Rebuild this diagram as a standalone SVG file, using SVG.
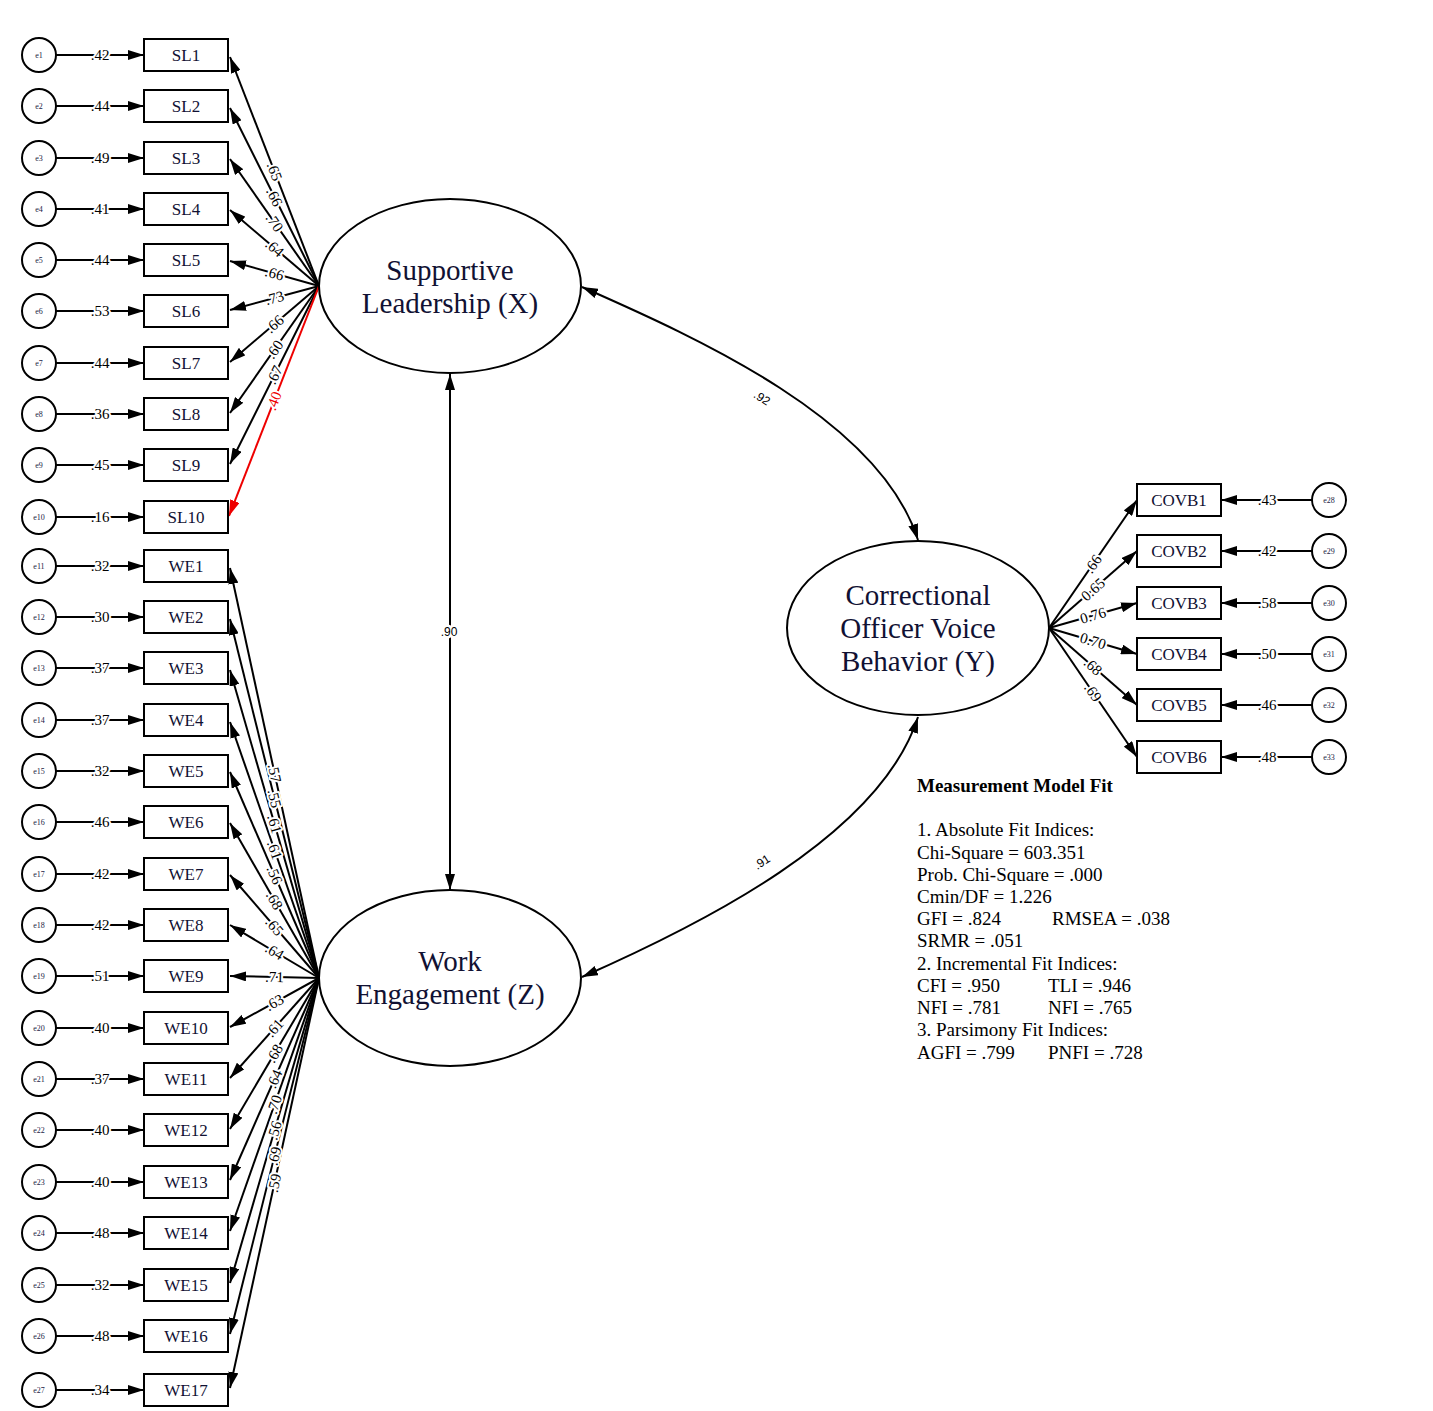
<svg xmlns="http://www.w3.org/2000/svg" width="1433" height="1411" viewBox="0 0 1433 1411">
<style>
.bg{fill:#fff}
.box{fill:#fff;stroke:#000;stroke-width:2}
.err{fill:#fff;stroke:#000;stroke-width:2}
.lat{fill:#fff;stroke:#000;stroke-width:2}
.ln{fill:none;stroke:#000;stroke-width:2}
.red{fill:none;stroke:#e00;stroke-width:2}
.bt{font-family:"Liberation Serif","DejaVu Serif",serif;font-size:17px;fill:#111133;text-anchor:middle}
.et{font-family:"Liberation Serif","DejaVu Serif",serif;font-size:8px;fill:#222244;text-anchor:middle}
.lt{font-family:"Liberation Serif","DejaVu Serif",serif;font-size:29px;fill:#111133;text-anchor:middle}
.lab{font-family:"Liberation Serif","DejaVu Serif",serif;font-size:15px;fill:#000;text-anchor:middle;stroke:#fff;stroke-width:4;paint-order:stroke;stroke-linejoin:round}
.labr{font-family:"Liberation Serif","DejaVu Serif",serif;font-size:15px;fill:#e00;text-anchor:middle;stroke:#fff;stroke-width:4;paint-order:stroke;stroke-linejoin:round}
.cov{font-family:"Liberation Sans","DejaVu Sans",sans-serif;font-size:12px;fill:#000;text-anchor:middle}
.ft{font-family:"Liberation Serif","DejaVu Serif",serif;font-size:19px;fill:#000}
.fh{font-family:"Liberation Serif","DejaVu Serif",serif;font-size:19px;font-weight:bold;fill:#000}
</style>
<defs>
<marker id="a" viewBox="0 0 16 10" refX="16" refY="5" markerWidth="16" markerHeight="10" markerUnits="userSpaceOnUse" orient="auto-start-reverse"><path d="M0,0 L16,5 L0,10 z" fill="#000"/></marker>
<marker id="ar" viewBox="0 0 16 10" refX="16" refY="5" markerWidth="16" markerHeight="10" markerUnits="userSpaceOnUse" orient="auto"><path d="M0,0 L16,5 L0,10 z" fill="#e00"/></marker>
</defs>
<rect class="bg" x="0" y="0" width="1433" height="1411"/>

<g id="connectors">
<g class="ln" marker-end="url(#a)">
<line x1="56" y1="55" x2="144" y2="55"/>
<line x1="56" y1="106" x2="144" y2="106"/>
<line x1="56" y1="158" x2="144" y2="158"/>
<line x1="56" y1="209" x2="144" y2="209"/>
<line x1="56" y1="260" x2="144" y2="260"/>
<line x1="56" y1="311" x2="144" y2="311"/>
<line x1="56" y1="363" x2="144" y2="363"/>
<line x1="56" y1="414" x2="144" y2="414"/>
<line x1="56" y1="465" x2="144" y2="465"/>
<line x1="56" y1="517" x2="144" y2="517"/>
<line x1="56" y1="566" x2="144" y2="566"/>
<line x1="56" y1="617" x2="144" y2="617"/>
<line x1="56" y1="668" x2="144" y2="668"/>
<line x1="56" y1="720" x2="144" y2="720"/>
<line x1="56" y1="771" x2="144" y2="771"/>
<line x1="56" y1="822" x2="144" y2="822"/>
<line x1="56" y1="874" x2="144" y2="874"/>
<line x1="56" y1="925" x2="144" y2="925"/>
<line x1="56" y1="976" x2="144" y2="976"/>
<line x1="56" y1="1028" x2="144" y2="1028"/>
<line x1="56" y1="1079" x2="144" y2="1079"/>
<line x1="56" y1="1130" x2="144" y2="1130"/>
<line x1="56" y1="1182" x2="144" y2="1182"/>
<line x1="56" y1="1233" x2="144" y2="1233"/>
<line x1="56" y1="1285" x2="144" y2="1285"/>
<line x1="56" y1="1336" x2="144" y2="1336"/>
<line x1="56" y1="1390" x2="144" y2="1390"/>
<line x1="1312" y1="500" x2="1221" y2="500"/>
<line x1="1312" y1="551" x2="1221" y2="551"/>
<line x1="1312" y1="603" x2="1221" y2="603"/>
<line x1="1312" y1="654" x2="1221" y2="654"/>
<line x1="1312" y1="705" x2="1221" y2="705"/>
<line x1="1312" y1="757" x2="1221" y2="757"/>
<line x1="319" y1="286" x2="230" y2="57"/>
<line x1="319" y1="286" x2="230" y2="108"/>
<line x1="319" y1="286" x2="230" y2="159"/>
<line x1="319" y1="286" x2="230" y2="210"/>
<line x1="319" y1="286" x2="230" y2="261"/>
<line x1="319" y1="286" x2="230" y2="310"/>
<line x1="319" y1="286" x2="230" y2="362"/>
<line x1="319" y1="286" x2="230" y2="413"/>
<line x1="319" y1="286" x2="230" y2="464"/>
<line x1="319" y1="978" x2="230" y2="568"/>
<line x1="319" y1="978" x2="230" y2="619"/>
<line x1="319" y1="978" x2="230" y2="670"/>
<line x1="319" y1="978" x2="230" y2="722"/>
<line x1="319" y1="978" x2="230" y2="772"/>
<line x1="319" y1="978" x2="230" y2="823"/>
<line x1="319" y1="978" x2="230" y2="875"/>
<line x1="319" y1="978" x2="230" y2="925"/>
<line x1="319" y1="978" x2="230" y2="976"/>
<line x1="319" y1="978" x2="230" y2="1027"/>
<line x1="319" y1="978" x2="230" y2="1078"/>
<line x1="319" y1="978" x2="230" y2="1129"/>
<line x1="319" y1="978" x2="230" y2="1180"/>
<line x1="319" y1="978" x2="230" y2="1231"/>
<line x1="319" y1="978" x2="230" y2="1283"/>
<line x1="319" y1="978" x2="230" y2="1334"/>
<line x1="319" y1="978" x2="230" y2="1388"/>
<line x1="1049" y1="628" x2="1137" y2="500"/>
<line x1="1049" y1="628" x2="1137" y2="551"/>
<line x1="1049" y1="628" x2="1137" y2="603"/>
<line x1="1049" y1="628" x2="1137" y2="654"/>
<line x1="1049" y1="628" x2="1137" y2="705"/>
<line x1="1049" y1="628" x2="1137" y2="757"/>
</g>
<line class="red" x1="319" y1="286" x2="229" y2="516" marker-end="url(#ar)"/>
<g class="ln" marker-start="url(#a)" marker-end="url(#a)">
<line x1="450" y1="374" x2="450" y2="890"/>
<path d="M582,287 C700,339 880,420 918,540"/>
<path d="M582,977 C700,925 880,836 918,717"/>
</g>
<g class="lab">
<text x="100" y="60">.42</text>
<text x="100" y="111">.44</text>
<text x="100" y="163">.49</text>
<text x="100" y="214">.41</text>
<text x="100" y="265">.44</text>
<text x="100" y="316">.53</text>
<text x="100" y="368">.44</text>
<text x="100" y="419">.36</text>
<text x="100" y="470">.45</text>
<text x="100" y="522">.16</text>
<text x="100" y="571">.32</text>
<text x="100" y="622">.30</text>
<text x="100" y="673">.37</text>
<text x="100" y="725">.37</text>
<text x="100" y="776">.32</text>
<text x="100" y="827">.46</text>
<text x="100" y="879">.42</text>
<text x="100" y="930">.42</text>
<text x="100" y="981">.51</text>
<text x="100" y="1033">.40</text>
<text x="100" y="1084">.37</text>
<text x="100" y="1135">.40</text>
<text x="100" y="1187">.40</text>
<text x="100" y="1238">.48</text>
<text x="100" y="1290">.32</text>
<text x="100" y="1341">.48</text>
<text x="100" y="1395">.34</text>
<text x="1267" y="505">.43</text>
<text x="1267" y="556">.42</text>
<text x="1267" y="608">.58</text>
<text x="1267" y="659">.50</text>
<text x="1267" y="710">.46</text>
<text x="1267" y="762">.48</text>
</g>
<g class="lab">
<text transform="translate(274.5,171.5) rotate(68.9)" dy="5">.65</text>
<text transform="translate(274.5,197) rotate(63.7)" dy="5">.66</text>
<text transform="translate(274.5,222.5) rotate(55.2)" dy="5">.70</text>
<text transform="translate(274.5,248) rotate(40.9)" dy="5">.64</text>
<text transform="translate(274.5,273.5) rotate(16.3)" dy="5">.66</text>
<text transform="translate(274.5,298) rotate(-15.7)" dy="5">.73</text>
<text transform="translate(274.5,324) rotate(-40.9)" dy="5">.66</text>
<text transform="translate(274.5,349.5) rotate(-55.2)" dy="5">.60</text>
<text transform="translate(274.5,375) rotate(-63.6)" dy="5">.67</text>
</g>
<text class="labr" transform="translate(274,401) rotate(-68.7)" dy="5">.40</text>
<g class="lab">
<text transform="translate(274.5,773) rotate(77.8)" dy="5">.57</text>
<text transform="translate(274.5,798.5) rotate(76.2)" dy="5">.55</text>
<text transform="translate(274.5,824) rotate(74.0)" dy="5">.61</text>
<text transform="translate(274.5,850) rotate(71.0)" dy="5">.61</text>
<text transform="translate(274.5,875) rotate(66.7)" dy="5">.56</text>
<text transform="translate(274.5,900.5) rotate(60.3)" dy="5">.68</text>
<text transform="translate(274.5,926.5) rotate(49.5)" dy="5">.65</text>
<text transform="translate(274.5,951.5) rotate(30.8)" dy="5">.64</text>
<text transform="translate(274.5,977) rotate(1.3)" dy="5">.71</text>
<text transform="translate(274.5,1002.5) rotate(-29.3)" dy="5">.63</text>
<text transform="translate(274.5,1028) rotate(-48.6)" dy="5">.61</text>
<text transform="translate(274.5,1053.5) rotate(-59.7)" dy="5">.68</text>
<text transform="translate(274.5,1079) rotate(-66.4)" dy="5">.64</text>
<text transform="translate(274.5,1104.5) rotate(-70.8)" dy="5">.70</text>
<text transform="translate(274.5,1130.5) rotate(-73.8)" dy="5">.56</text>
<text transform="translate(274.5,1156) rotate(-76.0)" dy="5">.69</text>
<text transform="translate(274.5,1183) rotate(-77.8)" dy="5">.59</text>
</g>
<g class="lab">
<text transform="translate(1093,564) rotate(-55.5)" dy="5">.66</text>
<text transform="translate(1093,589.5) rotate(-41.2)" dy="5">0.65</text>
<text transform="translate(1093,615.5) rotate(-15.9)" dy="5">0.76</text>
<text transform="translate(1093,641) rotate(16.5)" dy="5">0.70</text>
<text transform="translate(1093,666.5) rotate(41.2)" dy="5">.68</text>
<text transform="translate(1093,692.5) rotate(55.7)" dy="5">.69</text>
</g>
<text class="cov" x="449" y="636" stroke="#fff" stroke-width="5" paint-order="stroke">.90</text>
<text class="cov" transform="translate(762,398) rotate(33)" dy="4">.92</text>
<text class="cov" transform="translate(762,862) rotate(-33)" dy="4">.91</text>
</g>

<g id="e1"><circle class="err" cx="39" cy="55" r="17"/><text class="et" x="39" y="58">e1</text></g>
<g id="e2"><circle class="err" cx="39" cy="106" r="17"/><text class="et" x="39" y="109">e2</text></g>
<g id="e3"><circle class="err" cx="39" cy="158" r="17"/><text class="et" x="39" y="161">e3</text></g>
<g id="e4"><circle class="err" cx="39" cy="209" r="17"/><text class="et" x="39" y="212">e4</text></g>
<g id="e5"><circle class="err" cx="39" cy="260" r="17"/><text class="et" x="39" y="263">e5</text></g>
<g id="e6"><circle class="err" cx="39" cy="311" r="17"/><text class="et" x="39" y="314">e6</text></g>
<g id="e7"><circle class="err" cx="39" cy="363" r="17"/><text class="et" x="39" y="366">e7</text></g>
<g id="e8"><circle class="err" cx="39" cy="414" r="17"/><text class="et" x="39" y="417">e8</text></g>
<g id="e9"><circle class="err" cx="39" cy="465" r="17"/><text class="et" x="39" y="468">e9</text></g>
<g id="e10"><circle class="err" cx="39" cy="517" r="17"/><text class="et" x="39" y="520">e10</text></g>
<g id="e11"><circle class="err" cx="39" cy="566" r="17"/><text class="et" x="39" y="569">e11</text></g>
<g id="e12"><circle class="err" cx="39" cy="617" r="17"/><text class="et" x="39" y="620">e12</text></g>
<g id="e13"><circle class="err" cx="39" cy="668" r="17"/><text class="et" x="39" y="671">e13</text></g>
<g id="e14"><circle class="err" cx="39" cy="720" r="17"/><text class="et" x="39" y="723">e14</text></g>
<g id="e15"><circle class="err" cx="39" cy="771" r="17"/><text class="et" x="39" y="774">e15</text></g>
<g id="e16"><circle class="err" cx="39" cy="822" r="17"/><text class="et" x="39" y="825">e16</text></g>
<g id="e17"><circle class="err" cx="39" cy="874" r="17"/><text class="et" x="39" y="877">e17</text></g>
<g id="e18"><circle class="err" cx="39" cy="925" r="17"/><text class="et" x="39" y="928">e18</text></g>
<g id="e19"><circle class="err" cx="39" cy="976" r="17"/><text class="et" x="39" y="979">e19</text></g>
<g id="e20"><circle class="err" cx="39" cy="1028" r="17"/><text class="et" x="39" y="1031">e20</text></g>
<g id="e21"><circle class="err" cx="39" cy="1079" r="17"/><text class="et" x="39" y="1082">e21</text></g>
<g id="e22"><circle class="err" cx="39" cy="1130" r="17"/><text class="et" x="39" y="1133">e22</text></g>
<g id="e23"><circle class="err" cx="39" cy="1182" r="17"/><text class="et" x="39" y="1185">e23</text></g>
<g id="e24"><circle class="err" cx="39" cy="1233" r="17"/><text class="et" x="39" y="1236">e24</text></g>
<g id="e25"><circle class="err" cx="39" cy="1285" r="17"/><text class="et" x="39" y="1288">e25</text></g>
<g id="e26"><circle class="err" cx="39" cy="1336" r="17"/><text class="et" x="39" y="1339">e26</text></g>
<g id="e27"><circle class="err" cx="39" cy="1390" r="17"/><text class="et" x="39" y="1393">e27</text></g>
<g id="e28"><circle class="err" cx="1329" cy="500" r="17"/><text class="et" x="1329" y="503">e28</text></g>
<g id="e29"><circle class="err" cx="1329" cy="551" r="17"/><text class="et" x="1329" y="554">e29</text></g>
<g id="e30"><circle class="err" cx="1329" cy="603" r="17"/><text class="et" x="1329" y="606">e30</text></g>
<g id="e31"><circle class="err" cx="1329" cy="654" r="17"/><text class="et" x="1329" y="657">e31</text></g>
<g id="e32"><circle class="err" cx="1329" cy="705" r="17"/><text class="et" x="1329" y="708">e32</text></g>
<g id="e33"><circle class="err" cx="1329" cy="757" r="17"/><text class="et" x="1329" y="760">e33</text></g>

<g id="SL1"><rect class="box" x="144" y="39" width="84" height="32"/><text class="bt" x="186" y="61">SL1</text></g>
<g id="SL2"><rect class="box" x="144" y="90" width="84" height="32"/><text class="bt" x="186" y="112">SL2</text></g>
<g id="SL3"><rect class="box" x="144" y="142" width="84" height="32"/><text class="bt" x="186" y="164">SL3</text></g>
<g id="SL4"><rect class="box" x="144" y="193" width="84" height="32"/><text class="bt" x="186" y="215">SL4</text></g>
<g id="SL5"><rect class="box" x="144" y="244" width="84" height="32"/><text class="bt" x="186" y="266">SL5</text></g>
<g id="SL6"><rect class="box" x="144" y="295" width="84" height="32"/><text class="bt" x="186" y="317">SL6</text></g>
<g id="SL7"><rect class="box" x="144" y="347" width="84" height="32"/><text class="bt" x="186" y="369">SL7</text></g>
<g id="SL8"><rect class="box" x="144" y="398" width="84" height="32"/><text class="bt" x="186" y="420">SL8</text></g>
<g id="SL9"><rect class="box" x="144" y="449" width="84" height="32"/><text class="bt" x="186" y="471">SL9</text></g>
<g id="SL10"><rect class="box" x="144" y="501" width="84" height="32"/><text class="bt" x="186" y="523">SL10</text></g>
<g id="WE1"><rect class="box" x="144" y="550" width="84" height="32"/><text class="bt" x="186" y="572">WE1</text></g>
<g id="WE2"><rect class="box" x="144" y="601" width="84" height="32"/><text class="bt" x="186" y="623">WE2</text></g>
<g id="WE3"><rect class="box" x="144" y="652" width="84" height="32"/><text class="bt" x="186" y="674">WE3</text></g>
<g id="WE4"><rect class="box" x="144" y="704" width="84" height="32"/><text class="bt" x="186" y="726">WE4</text></g>
<g id="WE5"><rect class="box" x="144" y="755" width="84" height="32"/><text class="bt" x="186" y="777">WE5</text></g>
<g id="WE6"><rect class="box" x="144" y="806" width="84" height="32"/><text class="bt" x="186" y="828">WE6</text></g>
<g id="WE7"><rect class="box" x="144" y="858" width="84" height="32"/><text class="bt" x="186" y="880">WE7</text></g>
<g id="WE8"><rect class="box" x="144" y="909" width="84" height="32"/><text class="bt" x="186" y="931">WE8</text></g>
<g id="WE9"><rect class="box" x="144" y="960" width="84" height="32"/><text class="bt" x="186" y="982">WE9</text></g>
<g id="WE10"><rect class="box" x="144" y="1012" width="84" height="32"/><text class="bt" x="186" y="1034">WE10</text></g>
<g id="WE11"><rect class="box" x="144" y="1063" width="84" height="32"/><text class="bt" x="186" y="1085">WE11</text></g>
<g id="WE12"><rect class="box" x="144" y="1114" width="84" height="32"/><text class="bt" x="186" y="1136">WE12</text></g>
<g id="WE13"><rect class="box" x="144" y="1166" width="84" height="32"/><text class="bt" x="186" y="1188">WE13</text></g>
<g id="WE14"><rect class="box" x="144" y="1217" width="84" height="32"/><text class="bt" x="186" y="1239">WE14</text></g>
<g id="WE15"><rect class="box" x="144" y="1269" width="84" height="32"/><text class="bt" x="186" y="1291">WE15</text></g>
<g id="WE16"><rect class="box" x="144" y="1320" width="84" height="32"/><text class="bt" x="186" y="1342">WE16</text></g>
<g id="WE17"><rect class="box" x="144" y="1374" width="84" height="32"/><text class="bt" x="186" y="1396">WE17</text></g>
<g id="COVB1"><rect class="box" x="1137" y="484" width="84" height="32"/><text class="bt" x="1179" y="506">COVB1</text></g>
<g id="COVB2"><rect class="box" x="1137" y="535" width="84" height="32"/><text class="bt" x="1179" y="557">COVB2</text></g>
<g id="COVB3"><rect class="box" x="1137" y="587" width="84" height="32"/><text class="bt" x="1179" y="609">COVB3</text></g>
<g id="COVB4"><rect class="box" x="1137" y="638" width="84" height="32"/><text class="bt" x="1179" y="660">COVB4</text></g>
<g id="COVB5"><rect class="box" x="1137" y="689" width="84" height="32"/><text class="bt" x="1179" y="711">COVB5</text></g>
<g id="COVB6"><rect class="box" x="1137" y="741" width="84" height="32"/><text class="bt" x="1179" y="763">COVB6</text></g>

<g id="SL"><ellipse class="lat" cx="450" cy="286" rx="131" ry="87"/><text class="lt" x="450" y="280">Supportive</text><text class="lt" x="450" y="313">Leadership (X)</text></g>
<g id="WE"><ellipse class="lat" cx="450" cy="978" rx="131" ry="88"/><text class="lt" x="450" y="971">Work</text><text class="lt" x="450" y="1004">Engagement (Z)</text></g>
<g id="COVB"><ellipse class="lat" cx="918" cy="628" rx="131" ry="87"/><text class="lt" x="918" y="605">Correctional</text><text class="lt" x="918" y="638">Officer Voice</text><text class="lt" x="918" y="671">Behavior (Y)</text></g>

<g id="fit">
<text class="fh" x="917" y="792">Measurement Model Fit</text>
<text class="ft" x="917" y="836">1. Absolute Fit Indices:</text>
<text class="ft" x="917" y="859">Chi-Square = 603.351</text>
<text class="ft" x="917" y="881">Prob. Chi-Square = .000</text>
<text class="ft" x="917" y="903">Cmin/DF = 1.226</text>
<text class="ft" x="917" y="925">GFI = .824</text><text class="ft" x="1052" y="925">RMSEA = .038</text>
<text class="ft" x="917" y="947">SRMR = .051</text>
<text class="ft" x="917" y="970">2. Incremental Fit Indices:</text>
<text class="ft" x="917" y="992">CFI = .950</text><text class="ft" x="1048" y="992">TLI = .946</text>
<text class="ft" x="917" y="1014">NFI = .781</text><text class="ft" x="1048" y="1014">NFI = .765</text>
<text class="ft" x="917" y="1036">3. Parsimony Fit Indices:</text>
<text class="ft" x="917" y="1059">AGFI = .799</text><text class="ft" x="1048" y="1059">PNFI = .728</text>
</g>
</svg>
